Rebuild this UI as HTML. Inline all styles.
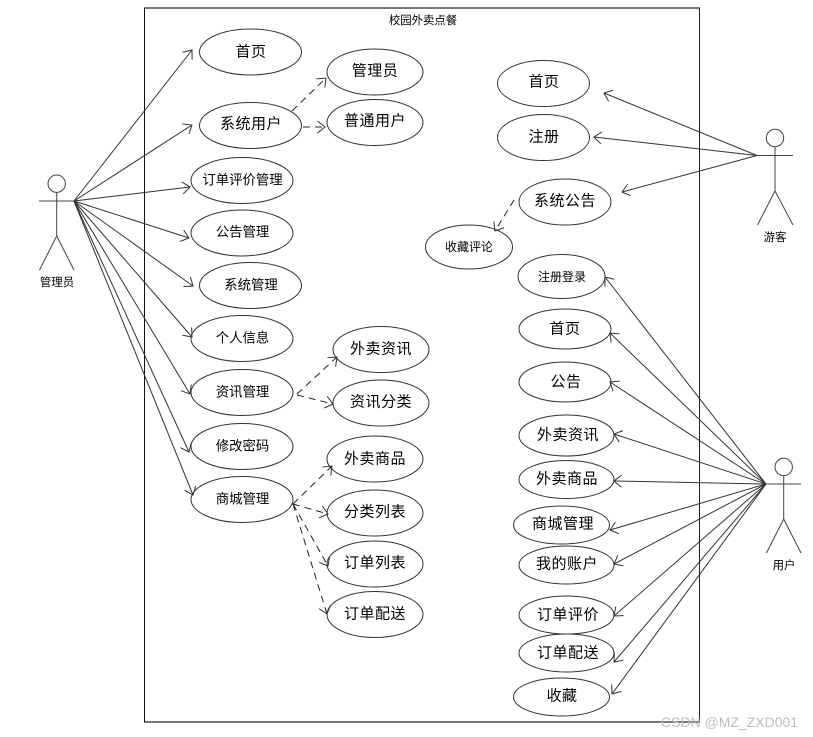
<!DOCTYPE html>
<html lang="zh">
<head>
<meta charset="utf-8">
<title>校园外卖点餐</title>
<style>
html,body{margin:0;padding:0;background:#fff;width:813px;height:737px;overflow:hidden}
svg{display:block}
text{font-family:"Liberation Sans","Noto Sans CJK SC",sans-serif;fill:#000;text-anchor:middle;dominant-baseline:central}
.a{font-size:15px;letter-spacing:.5px}
.b{font-size:13.4px}
.c{font-size:12px}
.d{font-size:11.4px}
ellipse{fill:#fff;stroke:#333;stroke-width:1}
.l{fill:none;stroke:#333;stroke-width:1;marker-end:url(#h)}
.k{fill:none;stroke:#222;stroke-width:1;stroke-dasharray:7 5;marker-end:url(#h)}
.s{fill:none;stroke:#444;stroke-width:1}
</style>
</head>
<body>
<svg width="813" height="737" viewBox="0 0 813 737" xmlns="http://www.w3.org/2000/svg">
<defs>
<marker id="h" markerUnits="userSpaceOnUse" markerWidth="14" markerHeight="14" refX="10" refY="7" orient="auto">
<path d="M2.5 1 L10 7 L2.5 13" fill="none" stroke="#333" stroke-width="1"/>
</marker>
</defs>

<!-- frame -->
<rect x="144" y="7" width="556" height="2" fill="#777"/>
<rect x="144" y="721" width="556" height="2" fill="#777"/>
<line x1="144.5" y1="8" x2="144.5" y2="722" stroke="#111" stroke-width="1"/>
<line x1="699.5" y1="8" x2="699.5" y2="722" stroke="#222" stroke-width="1"/>
<text x="423" y="21" class="d">校园外卖点餐</text>

<!-- ellipses left -->
<ellipse cx="250.5" cy="52" rx="51" ry="23"/>
<ellipse cx="250.5" cy="125.5" rx="51" ry="23"/>
<ellipse cx="242" cy="180.5" rx="51" ry="23"/>
<ellipse cx="242" cy="233" rx="51" ry="23"/>
<ellipse cx="250.5" cy="285.5" rx="51" ry="23"/>
<ellipse cx="242" cy="338.5" rx="51" ry="23"/>
<ellipse cx="242" cy="392.5" rx="51" ry="23"/>
<ellipse cx="242" cy="446.5" rx="51" ry="23"/>
<ellipse cx="242" cy="499.5" rx="51" ry="23"/>
<ellipse cx="375" cy="72" rx="48" ry="23"/>
<ellipse cx="375" cy="122.5" rx="48" ry="23"/>
<ellipse cx="381" cy="349.5" rx="48" ry="23"/>
<ellipse cx="381" cy="403" rx="48" ry="23"/>
<ellipse cx="375" cy="459" rx="48" ry="23"/>
<ellipse cx="375" cy="513" rx="48" ry="23"/>
<ellipse cx="375" cy="564" rx="48" ry="23"/>
<ellipse cx="375" cy="614.5" rx="48" ry="23"/>

<!-- ellipses right -->
<ellipse cx="543.5" cy="83.5" rx="46" ry="23"/>
<ellipse cx="543.5" cy="137.5" rx="46" ry="23"/>
<ellipse cx="565" cy="202" rx="46" ry="23"/>
<ellipse cx="469" cy="247" rx="43.5" ry="22"/>
<ellipse cx="561.5" cy="276.5" rx="43.5" ry="22"/>
<ellipse cx="565" cy="329" rx="46" ry="20"/>
<ellipse cx="565" cy="382" rx="46" ry="20"/>
<ellipse cx="566.5" cy="435.5" rx="47.5" ry="20.5"/>
<ellipse cx="566.5" cy="479.5" rx="47.5" ry="19"/>
<ellipse cx="561.5" cy="525" rx="48" ry="19"/>
<ellipse cx="566.5" cy="565" rx="47.5" ry="19"/>
<ellipse cx="566.5" cy="615" rx="47.5" ry="19"/>
<ellipse cx="566.5" cy="653" rx="47.5" ry="19"/>
<ellipse cx="561.5" cy="697" rx="48" ry="19"/>

<!-- admin lines -->
<path class="l" d="M74 201L192 50"/>
<path class="l" d="M74 201L192 125"/>
<path class="l" d="M74 201L190 187"/>
<path class="l" d="M74 201L189 238"/>
<path class="l" d="M74 201L193 286"/>
<path class="l" d="M74 201L192 337"/>
<path class="l" d="M74 201L190 394"/>
<path class="l" d="M74 201L189 452"/>
<path class="l" d="M74 201L193 495"/>

<!-- dashed -->
<path class="k" d="M292 111L326 78"/>
<path class="k" d="M303 127L325 127"/>
<path class="k" d="M297 394L337 357"/>
<path class="k" d="M297 395L333 404"/>
<path class="k" d="M293 504L332 466"/>
<path class="k" d="M293 504L328 514"/>
<path class="k" d="M293 504L328 566"/>
<path class="k" d="M293 504L327 614"/>
<path class="k" d="M514 200L495 231"/>

<!-- guest lines -->
<path class="l" d="M757 155.5L604 93"/>
<path class="l" d="M757 155.5L594 137"/>
<path class="l" d="M757 155.5L622 192"/>

<!-- user lines -->
<path class="l" d="M766 484L605 277"/>
<path class="l" d="M766 484L610 333"/>
<path class="l" d="M766 484L610 382"/>
<path class="l" d="M766 484L614 434"/>
<path class="l" d="M766 484L614 481"/>
<path class="l" d="M766 484L610 530"/>
<path class="l" d="M766 484L614 564"/>
<path class="l" d="M766 484L614 616"/>
<path class="l" d="M766 484L614 662"/>
<path class="l" d="M766 484L612 694"/>

<!-- actors -->
<g class="s">
<circle cx="56.7" cy="183.7" r="8.7"/>
<path d="M39 201H74M56.7 192.4V236M39.5 270L56.7 236L74 270"/>
<circle cx="775" cy="138" r="8.7"/>
<path d="M757 155.5H793M775 146.7V191M757.5 225L775 191L793 225"/>
<circle cx="783.7" cy="467" r="8.7"/>
<path d="M766 484H801M783.7 475.7V519M766.5 553L783.7 519L801 553"/>
</g>
<text x="57" y="283" class="d">管理员</text>
<text x="775" y="238" class="d">游客</text>
<text x="784" y="566" class="d">用户</text>

<!-- labels left -->
<text x="251" y="52" class="a">首页</text>
<text x="251" y="124" class="a">系统用户</text>
<text x="242.5" y="180" class="b">订单评价管理</text>
<text x="242.5" y="232" class="b">公告管理</text>
<text x="251" y="285" class="b">系统管理</text>
<text x="242.5" y="338" class="b">个人信息</text>
<text x="242.5" y="392" class="b">资讯管理</text>
<text x="242.5" y="446" class="b">修改密码</text>
<text x="242.5" y="499" class="b">商城管理</text>
<text x="375" y="71" class="a">管理员</text>
<text x="375" y="121" class="a">普通用户</text>
<text x="381" y="349" class="a">外卖资讯</text>
<text x="381" y="402" class="a">资讯分类</text>
<text x="375" y="459" class="a">外卖商品</text>
<text x="375" y="512" class="a">分类列表</text>
<text x="375" y="563" class="a">订单列表</text>
<text x="375" y="614" class="a">订单配送</text>

<!-- labels right -->
<text x="544" y="82" class="a">首页</text>
<text x="544" y="137" class="a">注册</text>
<text x="565" y="201" class="a">系统公告</text>
<text x="469" y="247" class="c">收藏评论</text>
<text x="562" y="277" class="c">注册登录</text>
<text x="565" y="329" class="a">首页</text>
<text x="566" y="382" class="a">公告</text>
<text x="568" y="435" class="a">外卖资讯</text>
<text x="567" y="479" class="a">外卖商品</text>
<text x="563" y="524" class="a">商城管理</text>
<text x="567" y="564" class="a">我的账户</text>
<text x="568" y="615" class="a">订单评价</text>
<text x="568" y="653" class="a">订单配送</text>
<text x="562" y="696" class="a">收藏</text>

<!-- watermark -->
<text x="729.5" y="722" style="font-size:14px;fill:#bdbdbd">CSDN @MZ_ZXD001</text>
</svg>
</body>
</html>
